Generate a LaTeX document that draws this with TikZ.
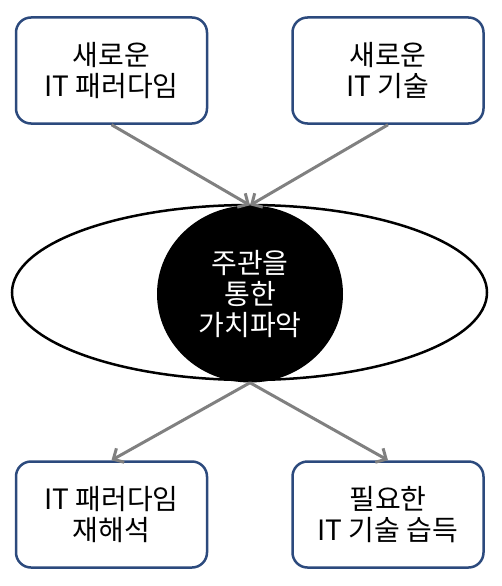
\documentclass[tikz,border=0pt]{standalone}
\usepackage{fontspec}
\setmainfont{Noto Sans CJK KR}
\usetikzlibrary{arrows.meta,shapes.geometric}
\definecolor{boxblue}{RGB}{44,74,125}
\definecolor{arrowgray}{RGB}{128,128,128}
\tikzset{
  box/.style={draw=boxblue, line width=2.5pt, rounded corners=15pt,
    minimum width=191pt, minimum height=106pt, align=center,
    font=\fontsize{28}{31}\selectfont},
  flow/.style={draw=arrowgray, line width=3pt,
    -{Straight Barb[length=8pt,width=16pt]}},
}
\begin{document}
\begin{tikzpicture}[x=1pt,y=-1pt]
      \useasboundingbox (0,0) rectangle (501,586);
      \node[draw, ellipse, line width=2.5pt, minimum width=475pt,
        minimum height=175pt] (ring) at (249.5,292.5) {};
      \node[fill=black, ellipse, minimum width=186pt, minimum height=177pt,
        text=white, align=center, font=\fontsize{28}{31}\selectfont]
        (0) at (250,294) {주관을\\통한\\가치파악};
      \draw
        (111.5,70.5) node[box] (1){새로운\\IT 패러다임}
        (388,70.5) node[box] (2){새로운\\IT 기술}
        (111.5,514.5) node[box] (3){IT 패러다임\\재해석}
        (388,514.5) node[box] (4){필요한\\IT 기술 습득};
      \begin{scope}[flow]
        \draw (1.south) to (0.north);
        \draw (2.south) to (0.north);
        \draw (0.south) to (3.north);
        \draw (0.south) to (4.north);
      \end{scope}
    \end{tikzpicture}
\end{document}
